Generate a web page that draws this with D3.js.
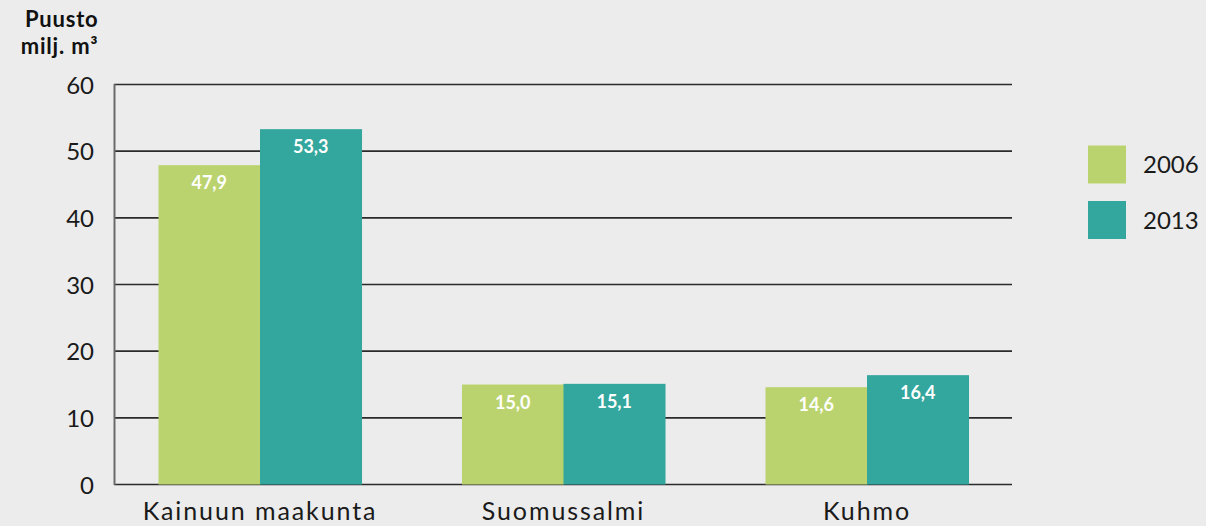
<!DOCTYPE html>
<html>
<head>
<meta charset="utf-8">
<script src="https://cdn.jsdelivr.net/npm/d3@7"></script>
<style>
  html, body { margin: 0; padding: 0; background: #ececec; }
  svg { display: block; }
  text { font-family: Lato, "Open Sans", sans-serif; }
</style>
</head>
<body>
<svg id="chart" width="1206" height="526"></svg>
<script>
// Growing stock (million m³) by region and year
const categories = ["Kainuun maakunta", "Suomussalmi", "Kuhmo"];
const years = ["2006", "2013"];
const values2006 = [47.9, 15.0, 14.6];
const values2013 = [53.3, 15.1, 16.4];
const yTicks = [0, 10, 20, 30, 40, 50, 60];
const colors = ["#bbd36e", "#33a69d"];

const series = [values2006, values2013];
const fmt = v => d3.format(".1f")(v).replace(".", ",");

const svg = d3.select("#chart");
const W = 1206, H = 526;

svg.append("rect").attr("width", W).attr("height", H).attr("fill", "#ececec");

const plotLeft = 114, plotRight = 1012;
const y = d3.scaleLinear().domain([0, 60]).range([484.5, 84.5]);
const x0 = d3.scaleBand().domain(categories)
  .range([108.25, 1018.75]).paddingInner(0.331).paddingOuter(0.1655);
const x1 = d3.scaleBand().domain(years).range([0, x0.bandwidth()]);

// horizontal grid lines
svg.append("g").selectAll("line").data(yTicks).join("line")
  .attr("x1", plotLeft).attr("x2", plotRight)
  .attr("y1", d => y(d)).attr("y2", d => y(d))
  .attr("stroke", "#2b2b2b").attr("stroke-width", 1.6);

// y axis labels
const yAxis = d3.axisLeft(y).tickValues(yTicks).tickSize(0).tickPadding(0).tickFormat(d3.format("d"));
const gy = svg.append("g").attr("transform", `translate(94,0)`).call(yAxis);
gy.select(".domain").remove();
gy.selectAll("text").attr("font-size", 24).attr("fill", "#1a1a1a")
  .attr("font-family", "Lato, sans-serif").attr("dy", "0.36em");

// bars
const groups = svg.append("g").selectAll("g").data(categories).join("g")
  .attr("transform", d => `translate(${x0(d)},0)`);

groups.selectAll("rect").data((c, i) => years.map((yr, k) => ({ yr, v: series[k][i], k })))
  .join("rect")
  .attr("x", d => x1(d.yr))
  .attr("width", x1.bandwidth() + 0.5)
  .attr("y", d => y(d.v))
  .attr("height", d => y(0) - y(d.v))
  .attr("fill", d => colors[d.k]);

groups.selectAll("text.val").data((c, i) => years.map((yr, k) => ({ yr, v: series[k][i], k })))
  .join("text").attr("class", "val")
  .attr("x", d => x1(d.yr) + x1.bandwidth() / 2)
  .attr("y", d => y(d.v) + 24)
  .attr("text-anchor", "middle")
  .attr("font-size", 18).attr("font-weight", 700).attr("fill", "#ffffff")
  .text(d => fmt(d.v));

// vertical axis line
svg.append("line").attr("x1", 114.5).attr("x2", 114.5).attr("y1", 84).attr("y2", 485)
  .attr("stroke", "#6a6a6a").attr("stroke-width", 2);

// category labels
const xAxis = d3.axisBottom(x0).tickSize(0).tickPadding(0);
const gx = svg.append("g").attr("transform", `translate(0,${520})`).call(xAxis);
gx.select(".domain").remove();
gx.selectAll("text").attr("font-size", 25).attr("fill", "#1a1a1a")
  .attr("font-family", "Lato, sans-serif").attr("dy", 0)
  .attr("letter-spacing", "1.9px");

// axis title
const title = svg.append("text").attr("text-anchor", "end").attr("font-weight", 700)
  .attr("font-size", 22).attr("letter-spacing", "0.8px").attr("fill", "#111");
title.append("tspan").attr("x", 98.5).attr("y", 27).text("Puusto");
title.append("tspan").attr("x", 98.5).attr("y", 54).text("milj. m³");

// legend
const legend = svg.append("g").selectAll("g").data(years).join("g")
  .attr("transform", (d, i) => `translate(1088,${145.5 + i * 55.5})`);
legend.append("rect").attr("width", 38).attr("height", 38).attr("fill", (d, i) => colors[i]);
legend.append("text").attr("x", 55).attr("y", 19).attr("dy", "0.36em")
  .attr("font-size", 24).attr("fill", "#1a1a1a").text(d => d);
</script>
</body>
</html>
